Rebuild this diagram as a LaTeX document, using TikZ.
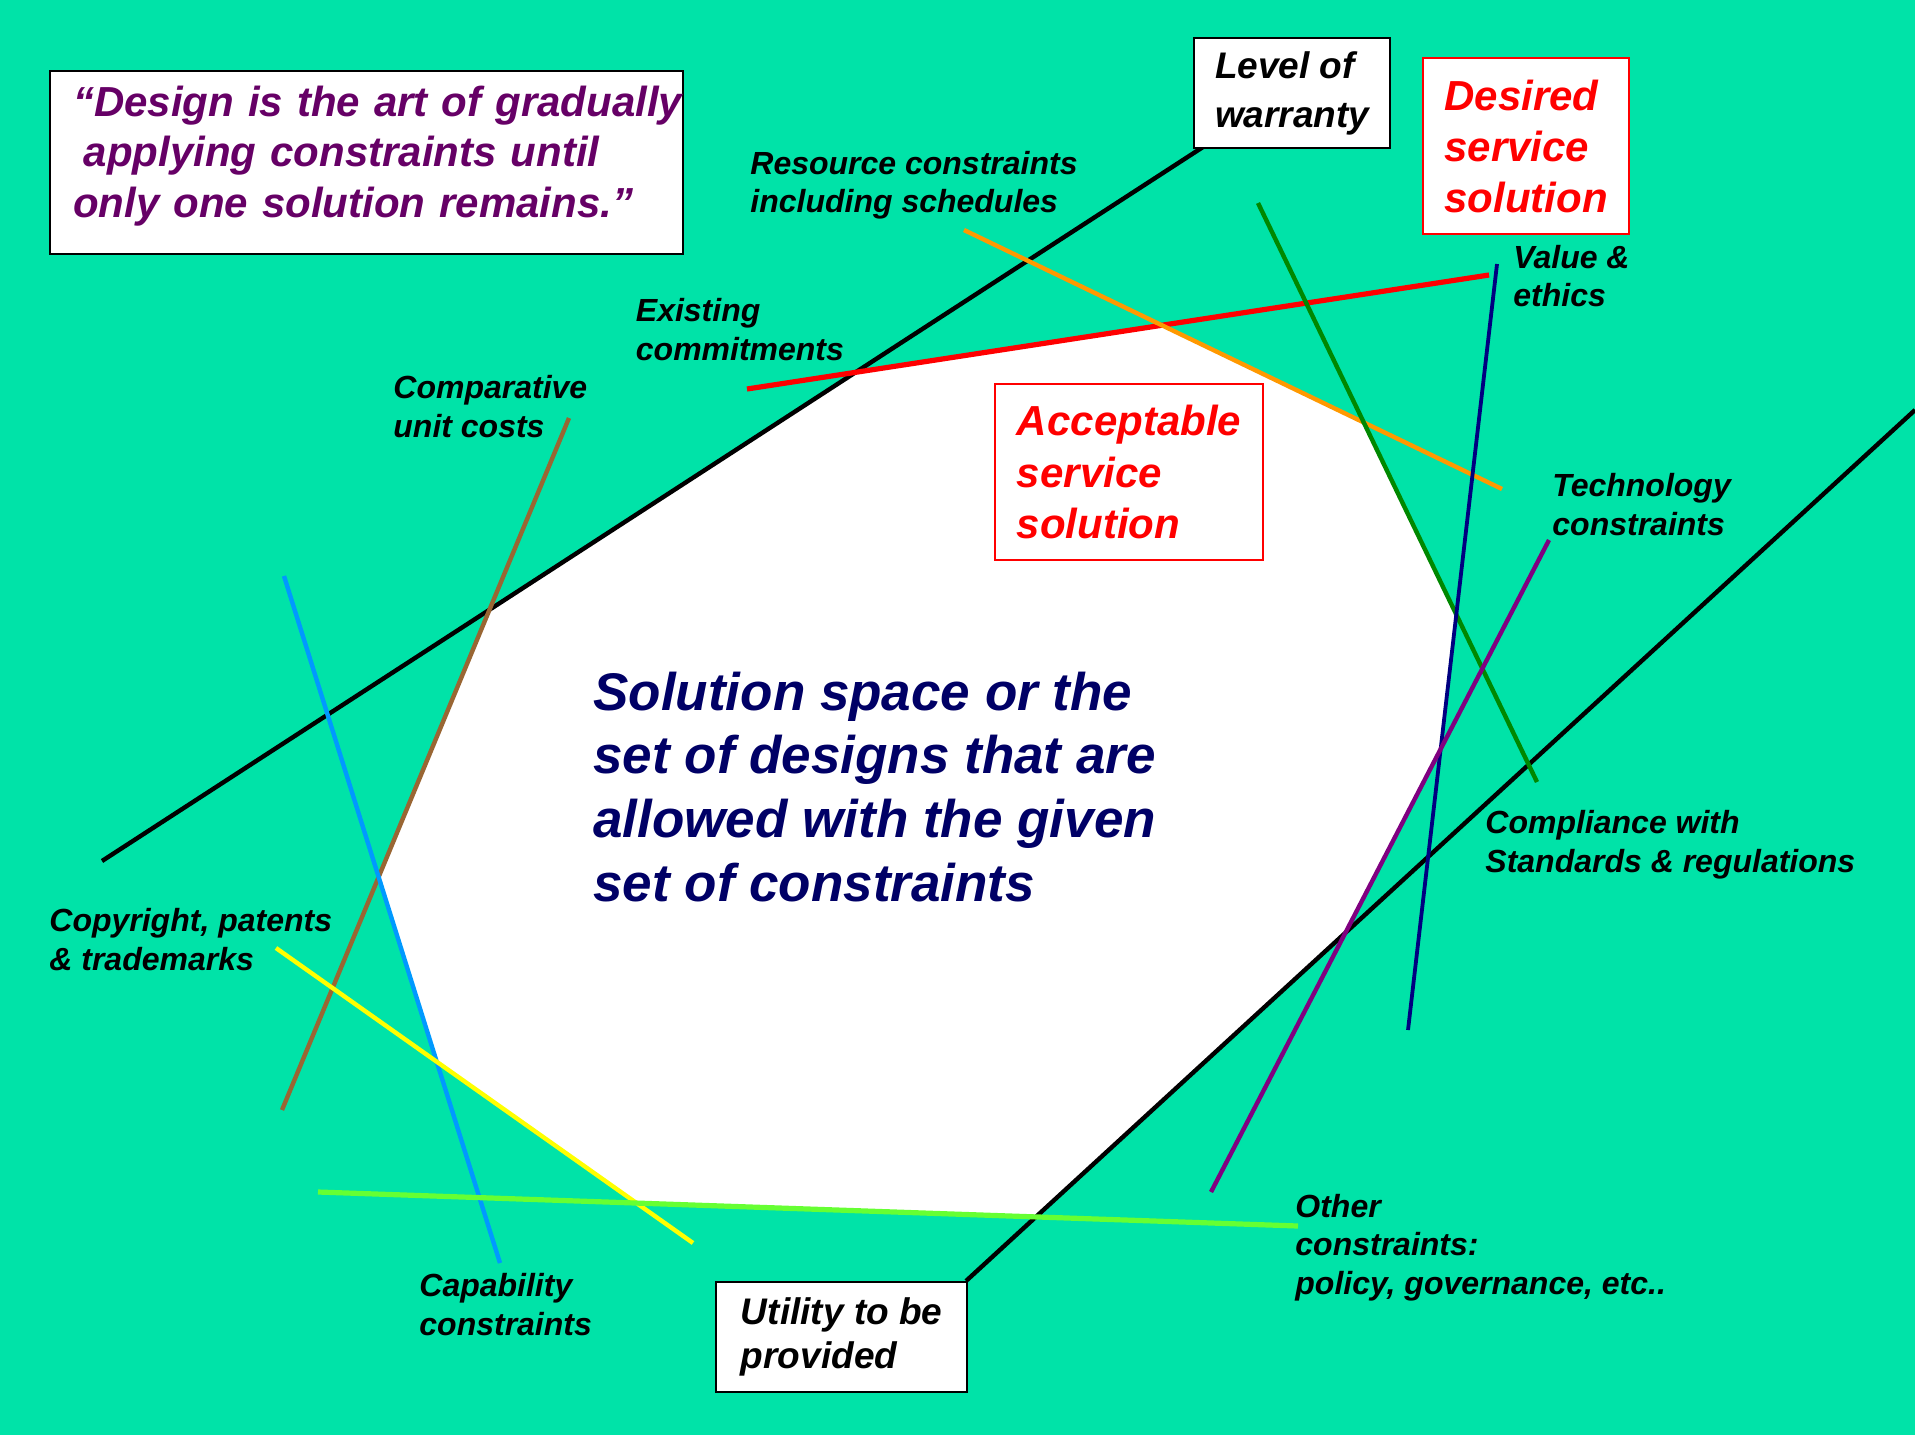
\documentclass[tikz,border=0pt]{standalone}
\usepackage{fontspec}
\setmainfont{Liberation Sans}
\definecolor{bg}{RGB}{0,227,168}
\definecolor{quotecol}{RGB}{102,0,102}
\definecolor{solcol}{RGB}{0,0,102}
\definecolor{lorange}{RGB}{255,153,0}
\definecolor{dgreen}{RGB}{0,136,0}
\definecolor{lnavy}{RGB}{0,0,128}
\definecolor{lpurple}{RGB}{128,0,128}
\definecolor{lbrown}{RGB}{153,102,51}
\definecolor{lblue}{RGB}{0,153,255}
\definecolor{lyellow}{RGB}{255,255,0}
\definecolor{lgreen}{RGB}{102,255,51}
\newcommand\myfont[2]{\fontsize{#1}{#2}\selectfont\bfseries\itshape}
\begin{document}
\begin{tikzpicture}[x=0.5pt,y=-0.5pt,
  cline/.style={line width=2.2pt},
  box/.style={draw=black, line width=1.2pt, fill=white, inner sep=0pt, align=left, anchor=north west},
  rbox/.style={draw=red, line width=1pt, fill=white, text=red, inner sep=0pt, align=left, anchor=north west},
  lbl/.style={anchor=base west, inner sep=0pt, align=left, font=\myfont{16}{19.3}}]
\fill[bg] (0,0) rectangle (1915,1435);
\useasboundingbox (0,0) rectangle (1915,1435);
% line end points
\coordinate (k1a) at (102,861);  \coordinate (k1b) at (1203,147);
\coordinate (k2a) at (966,1281); \coordinate (k2b) at (1915,410);
\coordinate (rd1) at (747,389);  \coordinate (rd2) at (1489,275);
\coordinate (or1) at (964,230);  \coordinate (or2) at (1502,489);
\coordinate (gn1) at (1258,203); \coordinate (gn2) at (1537,782);
\coordinate (nv1) at (1497,264); \coordinate (nv2) at (1408,1030);
\coordinate (pu1) at (1549,540); \coordinate (pu2) at (1211,1192);
\coordinate (br1) at (569,418);  \coordinate (br2) at (282,1110);
\coordinate (lb1) at (284,576);  \coordinate (lb2) at (500,1263);
\coordinate (ye1) at (276,948);  \coordinate (ye2) at (693,1243);
\coordinate (lg1) at (318,1192); \coordinate (lg2) at (1298,1226);
% solution space
\fill[white] (intersection of k1a--k1b and br1--br2)
  -- (intersection of k1a--k1b and rd1--rd2)
  -- (intersection of rd1--rd2 and or1--or2)
  -- (intersection of or1--or2 and gn1--gn2)
  -- (intersection of gn1--gn2 and nv1--nv2)
  -- (intersection of nv1--nv2 and pu1--pu2)
  -- (intersection of pu1--pu2 and k2a--k2b)
  -- (intersection of k2a--k2b and lg1--lg2)
  -- (intersection of lg1--lg2 and ye1--ye2)
  -- (intersection of ye1--ye2 and lb1--lb2)
  -- (intersection of lb1--lb2 and br1--br2) -- cycle;
% constraint lines
\draw[cline, black] (k1a) -- (k1b);
\draw[cline, black] (k2a) -- (k2b);
\draw[cline, red, line width=2.6pt] (rd1) -- (rd2);
\draw[cline, lorange] (or1) -- (or2);
\draw[cline, dgreen] (gn1) -- (gn2);
\draw[cline, lnavy, line width=1.9pt] (nv1) -- (nv2);
\draw[cline, lpurple] (pu1) -- (pu2);
\draw[cline, lbrown] (br1) -- (br2);
\draw[cline, lblue] (lb1) -- (lb2);
\draw[cline, lyellow] (ye1) -- (ye2);
\draw[cline, lgreen, line width=2.6pt] (lg1) -- (lg2);
% boxes
\node[box, text=quotecol, text width=293.5pt, inner xsep=11.5pt, minimum height=91.5pt,
  font=\myfont{21}{25.25}] (quote) at (49,70)
  {\mbox{“Design is the art of gradually}\\\mbox{\hspace{5.3pt}applying constraints until}\\\mbox{only one solution remains.”}\par\vspace{7pt}};
\node[box, minimum width=98pt, minimum height=55pt, font=\myfont{18.5}{24.5}] (warranty) at (1193,37)
  {Level of\\warranty};
\node[rbox, minimum width=103pt, minimum height=88pt, font=\myfont{21}{25.5}] (desired) at (1422,57)
  {Desired\\service\\solution};
\node[rbox, minimum width=134pt, minimum height=88pt, font=\myfont{21}{25.7}] (acceptable) at (994,383)
  {Acceptable\\service\\solution};
\node[box, minimum width=125.5pt, minimum height=55pt, font=\myfont{18.5}{22}] (utility) at (715,1281)
  {Utility to be\\provided};
% labels (anchored at the baseline of their last line)
\node[lbl] (resource) at (750,212.6) {Resource constraints\\including schedules};
\node[lbl] (existing) at (635.5,360.4) {Existing\\commitments};
\node[lbl] (comparative) at (393,437) {Comparative\\unit costs};
\node[lbl] (copyright) at (49,970) {Copyright, patents\\\& trademarks};
\node[lbl] (capability) at (419,1335) {Capability\\constraints};
\node[lbl] (value) at (1513,306.7) {Value \&\\ethics};
\node[lbl] (technology) at (1552,535) {Technology\\constraints};
\node[lbl] (compliance) at (1485,872) {Compliance with\\Standards \& regulations};
\node[lbl] (other) at (1295,1294.5) {Other\\constraints:\\policy, governance, etc..};
\node[anchor=base west, inner sep=0pt, align=left, text=solcol, font=\myfont{26.5}{31.8}] (space) at (593,901)
  {Solution space or the\\set of designs that are\\allowed with the given\\set of constraints};
\end{tikzpicture}
\end{document}
